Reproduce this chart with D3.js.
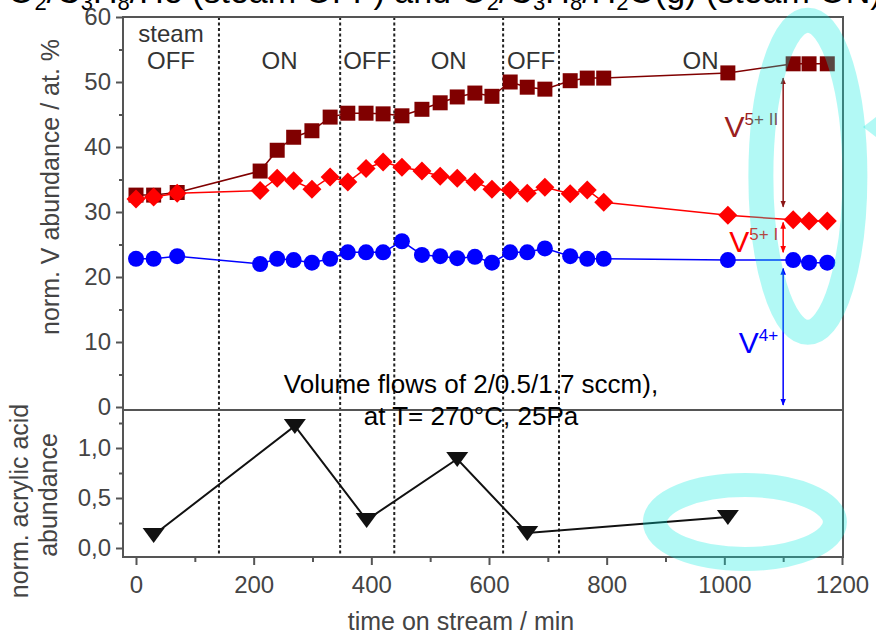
<!DOCTYPE html>
<html>
<head>
<meta charset="utf-8">
<script src="https://cdn.jsdelivr.net/npm/d3@7"></script>
<style>
  body { margin: 0; background: #fff; }
  svg { display: block; font-family: "Liberation Sans", Arial, sans-serif; }
</style>
</head>
<body>
<div id="chart"></div>
<script>
// time on stream (min) of the XPS measurements
var timeV = [0, 30, 70, 211, 240, 268, 299, 330, 360, 391, 420, 452, 486, 517, 546, 576, 605, 636, 665, 695, 738, 767, 795, 1006, 1117, 1144, 1175];
// normalised V abundance / at. %
var v5II = [32.6, 32.6, 33.0, 36.3, 39.5, 41.5, 42.5, 44.6, 45.2, 45.2, 45.1, 44.8, 45.8, 46.8, 47.7, 48.3, 47.8, 50.0, 49.2, 48.9, 50.2, 50.6, 50.6, 51.4, 52.8, 52.8, 52.8];
var v5I = [32.0, 32.3, 32.9, 33.3, 35.2, 34.8, 33.5, 35.4, 34.6, 36.7, 37.7, 36.9, 36.3, 35.5, 35.2, 34.6, 33.5, 33.4, 32.9, 33.8, 32.8, 33.4, 31.5, 29.5, 28.8, 28.6, 28.6];
var v4 = [22.8, 22.8, 23.2, 22.0, 22.8, 22.6, 22.2, 22.8, 23.8, 23.8, 23.8, 25.5, 23.4, 23.2, 22.9, 23.1, 22.2, 23.8, 23.8, 24.4, 23.2, 22.8, 22.8, 22.6, 22.6, 22.2, 22.2];

// acrylic acid (bottom panel)
var timeAA = [30, 270, 392, 546, 665, 1006];
var acrylic = [0.13, 1.22, 0.28, 0.89, 0.15, 0.31];

// steam switching times and phase labels
var switchTimes = [141, 347, 439, 624, 719];
var phaseLabels = [["steam", "OFF"], ["ON"], ["OFF"], ["ON"], ["OFF"], ["ON"]];

var xTicks = [0, 200, 400, 600, 800, 1000, 1200];
var yTopTicks = [0, 10, 20, 30, 40, 50, 60];
var yBotTicks = [0, 0.5, 1.0];

// arrows marking the species at t = 1100 min
var arrowTime = 1100;
var arrowFrom = [50.6, 28.4, 21.3];
var arrowTo = [30.8, 23.8, 0.3];
var arrowSup = ["5+ II", "5+ I", "4+"];
var arrowLabelY = [41.5, 23.8, 8.3];

var width = 876, height = 633;
var dark = "#800000", red = "#ff0000", blue = "#0000ff";

var svg = d3.select("#chart").append("svg")
    .attr("width", width)
    .attr("height", height);

var frameL = 123, frameR = 843, frameT = 17, frameM = 410, frameB = 557;

var x = d3.scaleLinear().domain([0, 1200]).range([136, 842]);
var yTop = d3.scaleLinear().domain([0, 60]).range([407, 17]);
var yBot = d3.scaleLinear().domain([0, 1]).range([548, 448]);

// cut-off title above the plot
var title = svg.append("text")
    .attr("x", 8)
    .attr("y", 3)
    .style("font-size", "34px")
    .attr("fill", "#000");
var parts = [["O"], ["2", 1], ["/C"], ["3", 1], ["H"], ["8", 1], ["/He (steam OFF) and O"], ["2", 1], ["/C"], ["3", 1], ["H"], ["8", 1], ["/H"], ["2", 1], ["O(g) (steam ON)"]];
var wasSub = false;
parts.forEach(function(p) {
    var t = title.append("tspan").text(p[0]);
    if (p[1]) {
        t.style("font-size", "22px").attr("dy", wasSub ? 0 : 7);
        wasSub = true;
    } else {
        t.attr("dy", wasSub ? -7 : 0);
        wasSub = false;
    }
});

// dashed lines where steam was switched
svg.selectAll(".switch")
    .data(switchTimes)
    .join("line")
    .attr("x1", d => x(d)).attr("x2", d => x(d))
    .attr("y1", frameT).attr("y2", frameB)
    .attr("stroke", "#222")
    .attr("stroke-width", 2)
    .attr("stroke-dasharray", "3,2.5");

// phase labels, centred between the switch lines
var bounds = [x.invert(frameL)].concat(switchTimes, [1200]);
phaseLabels.forEach(function(lines, i) {
    var cx = x((bounds[i] + bounds[i + 1]) / 2);
    lines.forEach(function(s, j) {
        svg.append("text")
            .attr("x", cx)
            .attr("y", 69 - (lines.length - 1 - j) * 27)
            .attr("text-anchor", "middle")
            .style("font-size", "24px")
            .attr("fill", "#333")
            .text(s);
    });
});

// frame
svg.append("rect")
    .attr("x", frameL).attr("y", frameT)
    .attr("width", frameR - frameL).attr("height", frameB - frameT)
    .attr("fill", "none").attr("stroke", "#555").attr("stroke-width", 2);
svg.append("line")
    .attr("x1", frameL).attr("x2", frameR)
    .attr("y1", frameM).attr("y2", frameM)
    .attr("stroke", "#555").attr("stroke-width", 2);

// axes
function styleAxis(g) {
    g.select(".domain").remove();
    g.selectAll(".tick line").attr("stroke", "#555").attr("stroke-width", 2);
    g.selectAll(".tick text").attr("fill", "#444").style("font-size", "24px")
        .style("font-family", "Liberation Sans, Arial, sans-serif");
}

svg.append("g")
    .attr("transform", "translate(" + frameL + ",0)")
    .call(d3.axisLeft(yTop).tickValues(yTopTicks).tickSize(7).tickPadding(5))
    .call(styleAxis);
svg.append("g")
    .attr("transform", "translate(" + frameL + ",0)")
    .call(d3.axisLeft(yTop).tickValues([5, 15, 25, 35, 45, 55]).tickSize(4).tickFormat(""))
    .call(styleAxis);

svg.append("g")
    .attr("transform", "translate(" + frameL + ",0)")
    .call(d3.axisLeft(yBot).tickValues(yBotTicks).tickSize(7).tickPadding(5)
        .tickFormat(d => d.toFixed(1).replace(".", ",")))
    .call(styleAxis);
svg.append("g")
    .attr("transform", "translate(" + frameL + ",0)")
    .call(d3.axisLeft(yBot).tickValues([0.25, 0.75, 1.25]).tickSize(4).tickFormat(""))
    .call(styleAxis);

svg.append("g")
    .attr("transform", "translate(0," + frameB + ")")
    .call(d3.axisBottom(x).tickValues(xTicks).tickSize(8).tickPadding(11).tickFormat(d3.format("d")))
    .call(styleAxis);
svg.append("g")
    .attr("transform", "translate(0," + frameB + ")")
    .call(d3.axisBottom(x).tickValues([100, 300, 500, 700, 900, 1100]).tickSize(5).tickFormat(""))
    .call(styleAxis);

// axis titles
svg.append("text")
    .attr("transform", "translate(59,187) rotate(-90)")
    .attr("text-anchor", "middle")
    .style("font-size", "25px").attr("fill", "#444")
    .text("norm. V abundance / at. %");
svg.append("text")
    .attr("transform", "translate(28,501) rotate(-90)")
    .attr("text-anchor", "middle")
    .style("font-size", "25px").attr("fill", "#444")
    .text("norm. acrylic acid");
svg.append("text")
    .attr("transform", "translate(57,495) rotate(-90)")
    .attr("text-anchor", "middle")
    .style("font-size", "25px").attr("fill", "#444")
    .text("abundance");
svg.append("text")
    .attr("x", 461).attr("y", 630)
    .attr("text-anchor", "middle")
    .style("font-size", "25px").attr("fill", "#444")
    .text("time on stream / min");

// series
function drawSeries(values, times, yScale, color, shape, lw) {
    var pts = times.map((t, i) => [t, values[i]]);
    svg.append("path")
        .datum(pts)
        .attr("fill", "none")
        .attr("stroke", color)
        .attr("stroke-width", lw)
        .attr("d", d3.line().x(d => x(d[0])).y(d => yScale(d[1])));
    svg.append("g").selectAll("path")
        .data(pts)
        .join("path")
        .attr("transform", d => "translate(" + x(d[0]) + "," + yScale(d[1]) + ")")
        .attr("d", shape)
        .attr("fill", color);
}

var square = "M-7.5,-7.5H7.5V7.5H-7.5Z";
var diamond = "M0,-9.5L9.5,0L0,9.5L-9.5,0Z";
var circle = d3.symbol(d3.symbolCircle, Math.PI * 8 * 8)();
var triDown = "M-11,-7L11,-7L0,8Z";

drawSeries(v5II, timeV, yTop, dark, square, 1.5);
drawSeries(v5I, timeV, yTop, red, diamond, 1.5);
drawSeries(v4, timeV, yTop, blue, circle, 1.5);
drawSeries(acrylic, timeAA, yBot, "#111", triDown, 2);

// double-headed arrows with species labels
var arrowColors = ["#8b1515", red, blue];
var labelColors = ["#9a2020", red, blue];
var defs = svg.append("defs");
arrowColors.forEach(function(c, i) {
    defs.append("marker")
        .attr("id", "ah" + i)
        .attr("viewBox", "0 -5 10 10")
        .attr("refX", 9).attr("refY", 0)
        .attr("markerWidth", 7).attr("markerHeight", 7)
        .attr("markerUnits", "userSpaceOnUse")
        .attr("orient", "auto-start-reverse")
        .append("path").attr("d", "M0,-4L10,0L0,4Z").attr("fill", c);
});
arrowFrom.forEach(function(f, i) {
    svg.append("line")
        .attr("x1", x(arrowTime)).attr("x2", x(arrowTime))
        .attr("y1", yTop(f)).attr("y2", yTop(arrowTo[i]))
        .attr("stroke", arrowColors[i]).attr("stroke-width", 1.5)
        .attr("marker-start", "url(#ah" + i + ")")
        .attr("marker-end", "url(#ah" + i + ")");
    var t = svg.append("text")
        .attr("x", x(arrowTime) - 5)
        .attr("y", yTop(arrowLabelY[i]))
        .attr("text-anchor", "end")
        .attr("fill", labelColors[i]);
    t.append("tspan").style("font-size", "30px").text("V");
    t.append("tspan").style("font-size", "17px").attr("dy", -12).text(arrowSup[i]);
});

// condition note
svg.append("text")
    .attr("x", 471).attr("y", 393)
    .attr("text-anchor", "middle")
    .style("font-size", "26px").attr("fill", "#000")
    .text("Volume flows of 2/0.5/1.7 sccm),");
svg.append("text")
    .attr("x", 471).attr("y", 425)
    .attr("text-anchor", "middle")
    .style("font-size", "26px").attr("fill", "#000")
    .text("at T= 270°C, 25Pa");

// cyan highlight rings
var cyan = "rgb(0,235,222)";
svg.append("ellipse")
    .attr("cx", x(1142)).attr("cy", yTop(35.5))
    .attr("rx", 47).attr("ry", 156)
    .attr("fill", "none").attr("stroke", cyan)
    .attr("stroke-width", 25).attr("stroke-opacity", 0.3);
svg.append("ellipse")
    .attr("cx", x(1035)).attr("cy", yBot(0.26))
    .attr("rx", 90).attr("ry", 37)
    .attr("fill", "none").attr("stroke", cyan)
    .attr("stroke-width", 24).attr("stroke-opacity", 0.3);
svg.append("path")
    .attr("d", "M863,127L880,114L880,140Z")
    .attr("fill", cyan).attr("fill-opacity", 0.3);
</script>
</body>
</html>
